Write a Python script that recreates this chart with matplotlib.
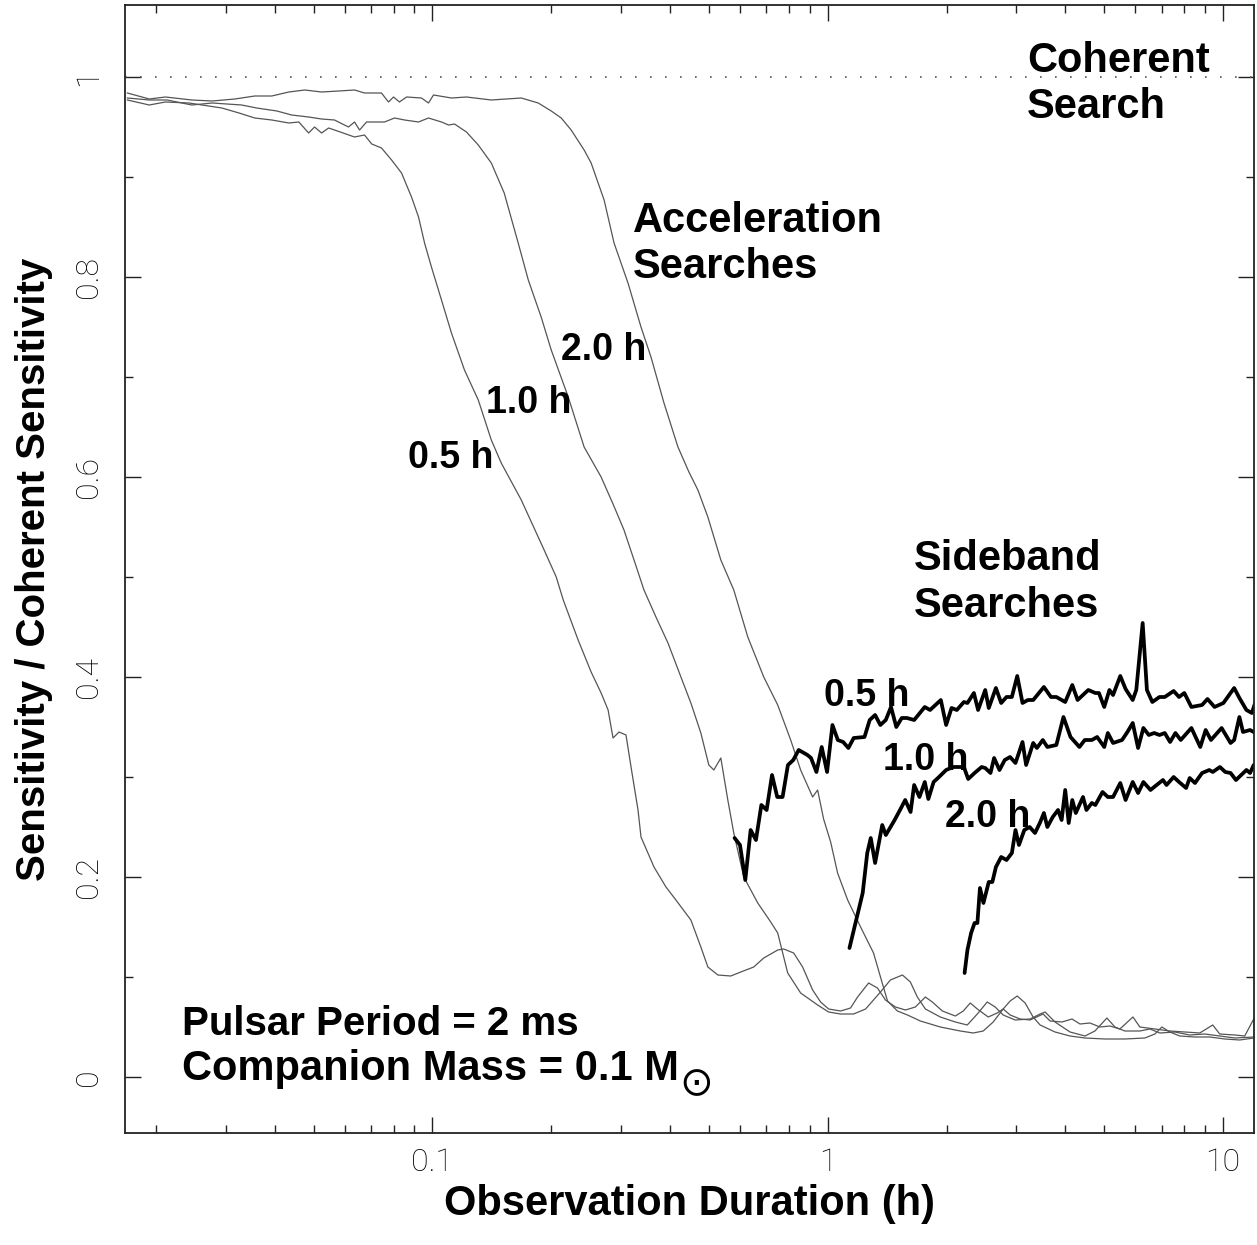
import matplotlib
matplotlib.use("Agg")
import matplotlib.pyplot as plt
from matplotlib.ticker import LogLocator, MultipleLocator, NullFormatter

# ---------------- data (observation duration in hours, relative sensitivity) -------------
accel_05_x = [0.0169, 0.0192, 0.0211, 0.0242, 0.0293, 0.0324, 0.0355, 0.0392, 0.0433, 0.0459,
              0.0486, 0.0503, 0.0524, 0.0546, 0.0565, 0.0635, 0.0673, 0.0702, 0.0743, 0.0788,
              0.0835, 0.0885, 0.0922, 0.0955, 0.0994, 0.1054, 0.1117, 0.1205, 0.1306, 0.1409,
              0.1493, 0.1678, 0.1917, 0.2057, 0.2143, 0.2337, 0.2521, 0.2672, 0.2783, 0.2864,
              0.2966, 0.3089, 0.3181, 0.3313, 0.3371, 0.3636, 0.3899, 0.4132, 0.4508, 0.4778,
              0.4977, 0.5276, 0.5689, 0.6030, 0.6503, 0.6893, 0.7478, 0.7743, 0.8207, 0.8647,
              0.9165, 0.9601, 1.006, 1.079, 1.143, 1.191, 1.270, 1.337, 1.401, 1.485,
              1.574, 1.668, 1.768, 1.841, 1.952, 2.105, 2.205, 2.297, 2.393, 2.550,
              2.687, 2.782, 2.898, 3.071, 3.255, 3.511, 3.656, 3.920, 4.155, 4.353,
              4.613, 4.890, 5.182, 5.492, 5.926, 6.171, 6.736, 7.349, 8.019, 8.749,
              9.436, 9.827, 10.73, 11.37, 11.98]
accel_05_y = [0.977, 0.972, 0.975, 0.974, 0.969, 0.964, 0.959, 0.957, 0.954, 0.955,
              0.944, 0.950, 0.944, 0.949, 0.947, 0.940, 0.942, 0.933, 0.929, 0.917,
              0.904, 0.880, 0.860, 0.834, 0.810, 0.777, 0.744, 0.707, 0.677, 0.637,
              0.614, 0.577, 0.527, 0.500, 0.477, 0.437, 0.405, 0.384, 0.367, 0.339,
              0.345, 0.342, 0.310, 0.267, 0.240, 0.210, 0.190, 0.177, 0.157, 0.130,
              0.110, 0.102, 0.101, 0.105, 0.110, 0.119, 0.127, 0.128, 0.124, 0.110,
              0.087, 0.075, 0.068, 0.066, 0.069, 0.080, 0.094, 0.089, 0.077, 0.070,
              0.067, 0.070, 0.080, 0.075, 0.066, 0.061, 0.066, 0.074, 0.068, 0.060,
              0.064, 0.068, 0.062, 0.058, 0.057, 0.063, 0.056, 0.055, 0.058, 0.053,
              0.054, 0.050, 0.051, 0.048, 0.060, 0.050, 0.048, 0.046, 0.045, 0.044,
              0.052, 0.043, 0.042, 0.041, 0.058]

accel_10_x = [0.0169, 0.0192, 0.0213, 0.0246, 0.0277, 0.0329, 0.0359, 0.0404, 0.0440, 0.0486,
              0.0524, 0.0565, 0.0613, 0.0635, 0.0654, 0.0681, 0.0756, 0.0802, 0.0850, 0.0922,
              0.0977, 0.1054, 0.1098, 0.1137, 0.1219, 0.1306, 0.1409, 0.1519, 0.1648, 0.1748,
              0.1884, 0.1998, 0.2206, 0.2420, 0.2672, 0.2864, 0.3053, 0.3237, 0.3430, 0.3678,
              0.3945, 0.4254, 0.4508, 0.4778, 0.5005, 0.5154, 0.5368, 0.5591, 0.5789, 0.6136,
              0.6657, 0.7179, 0.7478, 0.7698, 0.7926, 0.8547, 0.9436, 1.006, 1.079, 1.163,
              1.248, 1.361, 1.442, 1.547, 1.620, 1.687, 1.768, 1.929, 2.105, 2.257,
              2.393, 2.535, 2.656, 2.782, 2.984, 3.255, 3.450, 3.552, 3.764, 4.107,
              4.481, 4.749, 5.093, 5.335, 5.654, 6.171, 6.543, 6.934, 7.566, 8.255,
              9.007, 9.827, 10.73, 11.98]
accel_10_y = [0.979, 0.977, 0.977, 0.972, 0.974, 0.972, 0.969, 0.966, 0.962, 0.960,
              0.958, 0.957, 0.950, 0.955, 0.947, 0.955, 0.955, 0.959, 0.957, 0.955,
              0.959, 0.955, 0.952, 0.953, 0.945, 0.932, 0.914, 0.884, 0.834, 0.797,
              0.760, 0.727, 0.680, 0.630, 0.600, 0.573, 0.547, 0.517, 0.487, 0.460,
              0.434, 0.400, 0.374, 0.344, 0.312, 0.307, 0.319, 0.277, 0.244, 0.200,
              0.174, 0.155, 0.144, 0.124, 0.104, 0.084, 0.072, 0.065, 0.063, 0.063,
              0.068, 0.085, 0.097, 0.102, 0.095, 0.080, 0.068, 0.060, 0.055, 0.052,
              0.063, 0.075, 0.070, 0.062, 0.057, 0.058, 0.063, 0.065, 0.055, 0.045,
              0.041, 0.046, 0.059, 0.050, 0.046, 0.046, 0.048, 0.044, 0.045, 0.042,
              0.043, 0.041, 0.039, 0.040]

accel_20_x = [0.0169, 0.0192, 0.0211, 0.0246, 0.0277, 0.0316, 0.0355, 0.0392, 0.0433, 0.0475,
              0.0524, 0.0579, 0.0635, 0.0673, 0.0743, 0.0774, 0.0797, 0.0825, 0.0860, 0.0938,
              0.0977, 0.1006, 0.1117, 0.1219, 0.1409, 0.1678, 0.1852, 0.1998, 0.2118, 0.2244,
              0.2420, 0.2521, 0.2719, 0.2881, 0.3125, 0.3371, 0.3573, 0.3854, 0.4181, 0.4457,
              0.4696, 0.4977, 0.5368, 0.5789, 0.6281, 0.6893, 0.7478, 0.8065, 0.8547, 0.9165,
              0.9436, 0.9770, 1.018, 1.060, 1.124, 1.212, 1.307, 1.361, 1.418, 1.502,
              1.593, 1.717, 1.929, 2.167, 2.337, 2.477, 2.625, 2.782, 2.898, 3.019,
              3.162, 3.312, 3.450, 3.764, 4.107, 4.481, 5.034, 5.654, 6.353, 6.736,
              7.015, 7.349, 7.789, 8.498, 9.273, 10.12, 11.04, 11.98]
accel_20_y = [0.984, 0.978, 0.980, 0.977, 0.976, 0.978, 0.981, 0.981, 0.985, 0.987,
              0.985, 0.986, 0.987, 0.984, 0.984, 0.975, 0.980, 0.975, 0.980, 0.979,
              0.974, 0.982, 0.979, 0.980, 0.977, 0.979, 0.974, 0.966, 0.959, 0.947,
              0.927, 0.914, 0.877, 0.834, 0.794, 0.750, 0.720, 0.674, 0.630, 0.605,
              0.587, 0.560, 0.517, 0.487, 0.440, 0.400, 0.372, 0.337, 0.307, 0.280,
              0.287, 0.258, 0.235, 0.204, 0.177, 0.150, 0.124, 0.100, 0.076, 0.066,
              0.062, 0.056, 0.050, 0.046, 0.044, 0.046, 0.055, 0.068, 0.076, 0.081,
              0.074, 0.060, 0.052, 0.045, 0.041, 0.039, 0.038, 0.038, 0.039, 0.043,
              0.050, 0.045, 0.041, 0.040, 0.040, 0.038, 0.037, 0.039]

side_05_x = [0.5816, 0.6002, 0.6190, 0.6387, 0.6587, 0.6798, 0.7010, 0.7234, 0.7457, 0.7693,
             0.7936, 0.8188, 0.8449, 0.8893, 0.9080, 0.9371, 0.9662, 0.9970, 1.0287, 1.0613,
             1.0949, 1.1289, 1.1645, 1.2399, 1.2782, 1.3189, 1.3601, 1.4036, 1.4471, 1.4925,
             1.5406, 1.5888, 1.6561, 1.7615, 1.8169, 1.9346, 1.9954, 2.0593, 2.1233, 2.2129,
             2.2591, 2.3457, 2.4038, 2.5058, 2.5579, 2.6669, 2.7499, 2.8365, 2.9267, 3.0197,
             3.1143, 3.2132, 3.3142, 3.5273, 3.6754, 3.7931, 3.9940, 4.1620, 4.2926, 4.5689,
             4.7606, 4.8603, 5.0137, 5.1678, 5.2779, 5.5048, 5.6782, 5.9185, 6.0431, 6.2722,
             6.4296, 6.6353, 6.918, 7.1344, 7.5129, 7.753, 7.9954, 8.3318, 8.8671, 9.1506,
             9.5363, 10.040, 10.690, 11.022, 11.483, 11.851, 12.1]
side_05_y = [0.239, 0.232, 0.197, 0.247, 0.237, 0.272, 0.267, 0.302, 0.280, 0.280,
             0.312, 0.317, 0.327, 0.322, 0.319, 0.305, 0.330, 0.305, 0.352, 0.337,
             0.335, 0.329, 0.339, 0.340, 0.357, 0.362, 0.352, 0.357, 0.370, 0.350,
             0.359, 0.359, 0.357, 0.370, 0.367, 0.377, 0.352, 0.369, 0.367, 0.375,
             0.374, 0.384, 0.367, 0.387, 0.369, 0.389, 0.374, 0.380, 0.380, 0.401,
             0.374, 0.377, 0.377, 0.390, 0.380, 0.380, 0.375, 0.392, 0.377, 0.387,
             0.384, 0.384, 0.370, 0.387, 0.382, 0.401, 0.388, 0.377, 0.387, 0.454,
             0.387, 0.375, 0.380, 0.380, 0.386, 0.380, 0.384, 0.370, 0.372, 0.378,
             0.370, 0.374, 0.389, 0.379, 0.367, 0.364, 0.375]

side_10_x = [1.136, 1.227, 1.260, 1.286, 1.319, 1.375, 1.404, 1.478, 1.525, 1.572,
             1.622, 1.656, 1.708, 1.762, 1.799, 1.855, 1.914, 1.995, 2.080, 2.213,
             2.269, 2.355, 2.454, 2.506, 2.584, 2.639, 2.723, 2.808, 2.896, 2.989,
             3.114, 3.180, 3.314, 3.386, 3.505, 3.599, 3.793, 3.953, 4.119, 4.338,
             4.476, 4.664, 4.811, 5.014, 5.120, 5.278, 5.563, 5.739, 5.919, 6.107,
             6.298, 6.501, 6.705, 6.918, 7.134, 7.358, 7.592, 7.830, 8.332, 8.774,
             9.054, 9.338, 9.936, 10.469, 10.690, 11.021, 11.254, 11.727, 12.1]
side_10_y = [0.129, 0.184, 0.224, 0.239, 0.214, 0.252, 0.242, 0.257, 0.267, 0.277,
             0.265, 0.292, 0.280, 0.295, 0.278, 0.295, 0.300, 0.307, 0.310, 0.310,
             0.298, 0.304, 0.310, 0.309, 0.304, 0.319, 0.307, 0.317, 0.320, 0.314,
             0.335, 0.312, 0.334, 0.329, 0.337, 0.330, 0.332, 0.360, 0.340, 0.330,
             0.337, 0.337, 0.340, 0.330, 0.344, 0.334, 0.337, 0.345, 0.354, 0.329,
             0.349, 0.342, 0.344, 0.342, 0.344, 0.335, 0.344, 0.337, 0.349, 0.330,
             0.347, 0.337, 0.349, 0.334, 0.337, 0.360, 0.345, 0.347, 0.344]

side_20_x = [2.222, 2.259, 2.308, 2.355, 2.394, 2.430, 2.480, 2.558, 2.612, 2.667,
             2.750, 2.837, 2.927, 2.989, 3.050, 3.147, 3.246, 3.349, 3.454, 3.527,
             3.599, 3.714, 3.830, 3.911, 3.994, 4.076, 4.162, 4.248, 4.430, 4.520,
             4.664, 4.761, 4.964, 5.120, 5.278, 5.505, 5.678, 5.919, 6.107, 6.298,
             6.566, 6.705, 7.060, 7.208, 7.513, 7.753, 8.080, 8.250, 8.508, 8.867,
             9.246, 9.436, 9.839, 10.151, 10.469, 10.802, 11.137, 11.483, 11.727, 11.98]
side_20_y = [0.104, 0.127, 0.144, 0.154, 0.154, 0.189, 0.174, 0.195, 0.195, 0.210,
             0.220, 0.217, 0.224, 0.247, 0.232, 0.247, 0.250, 0.244, 0.255, 0.264,
             0.250, 0.260, 0.267, 0.257, 0.287, 0.254, 0.277, 0.264, 0.280, 0.267,
             0.274, 0.272, 0.285, 0.280, 0.280, 0.294, 0.277, 0.295, 0.284, 0.295,
             0.287, 0.290, 0.297, 0.292, 0.300, 0.295, 0.289, 0.299, 0.294, 0.304,
             0.307, 0.305, 0.310, 0.305, 0.304, 0.297, 0.302, 0.307, 0.304, 0.312]

coherent_level = 1.0
duration_labels = ["0.5 h", "1.0 h", "2.0 h"]
xtick_values = [0.1, 1, 10]
xtick_labels = ["0.1", "1", "10"]
ytick_values = [0, 0.2, 0.4, 0.6, 0.8, 1.0]
ytick_labels = ["0", "0.2", "0.4", "0.6", "0.8", "1"]

# ---------------- figure ----------------
BOLD = ["Liberation Sans", "DejaVu Sans"]
THIN = ["Roboto", "DejaVu Sans"]
plt.rcParams["font.family"] = BOLD

fig = plt.figure(figsize=(12.57, 12.45), dpi=100)
ax = fig.add_axes([125 / 1257, 112 / 1245, 1129 / 1257, 1128 / 1245])
ax.set_xscale("log")

grey = "#555555"
for xs, ys in [(accel_05_x, accel_05_y), (accel_10_x, accel_10_y), (accel_20_x, accel_20_y)]:
    ax.plot(xs, ys, color=grey, lw=0.9, solid_joinstyle="round")
for xs, ys in [(side_05_x, side_05_y), (side_10_x, side_10_y), (side_20_x, side_20_y)]:
    ax.plot(xs, ys, color="black", lw=2.7, solid_joinstyle="round", solid_capstyle="round")

ax.axhline(coherent_level, color=grey, lw=1.2, ls=(0, (1, 8)))

ax.set_xlim(1 / 60, 12)
ax.set_ylim(-0.056, 1.072)

ax.set_xticks(xtick_values, xtick_labels)
ax.xaxis.set_minor_locator(LogLocator(base=10, subs=range(2, 10), numticks=30))
ax.xaxis.set_minor_formatter(NullFormatter())
ax.set_yticks(ytick_values, ytick_labels, rotation=90, va="center")
ax.yaxis.set_minor_locator(MultipleLocator(0.1))

ax.tick_params(which="both", direction="in", top=True, right=True, width=1.0, color="#222222")
ax.tick_params(which="major", length=11.5)
ax.tick_params(which="minor", length=5.8)
ax.tick_params(axis="x", pad=11)
ax.tick_params(axis="y", pad=16)
for lab in ax.get_xticklabels() + ax.get_yticklabels():
    lab.set_fontfamily(THIN)
    lab.set_fontweight("light")
    lab.set_fontsize(23)

for sp in ax.spines.values():
    sp.set_linewidth(1.3)
    sp.set_color("#222222")

ax.set_xlabel("Observation Duration (h)", fontsize=30, fontweight="bold", labelpad=5)
ax.set_ylabel("Sensitivity / Coherent Sensitivity", fontsize=29, fontweight="bold", labelpad=15)

big = dict(fontsize=30, fontweight="bold", ha="left", va="baseline")
small = dict(fontsize=27, fontweight="bold", ha="left", va="baseline")
ax.text(3.2, 1.005, "Coherent", **big)
ax.text(3.2, 0.959, "Search", **big)
ax.text(0.322, 0.845, "Acceleration", **big)
ax.text(0.322, 0.799, "Searches", **big)
ax.text(1.649, 0.507, "Sideband", **big)
ax.text(1.649, 0.460, "Searches", **big)

ax.text(0.0865, 0.609, duration_labels[0], **small)
ax.text(0.137, 0.664, duration_labels[1], **small)
ax.text(0.212, 0.717, duration_labels[2], **small)
ax.text(0.977, 0.371, duration_labels[0], **small)
ax.text(1.385, 0.307, duration_labels[1], **small)
ax.text(1.986, 0.250, duration_labels[2], **small)

ax.text(0.0232, 0.042, "Pulsar Period = 2 ms", fontsize=29, fontweight="bold", ha="left", va="baseline")
ax.text(0.0232, -0.003, "Companion Mass = 0.1 M", fontsize=30, fontweight="bold",
        ha="left", va="baseline")
# solar symbol, set as a large subscript after the "M"
ax.text(0.462, -0.007, r"$\odot$", fontsize=29, ha="center", va="center", color="black")

fig.savefig("out.png", dpi=100)
